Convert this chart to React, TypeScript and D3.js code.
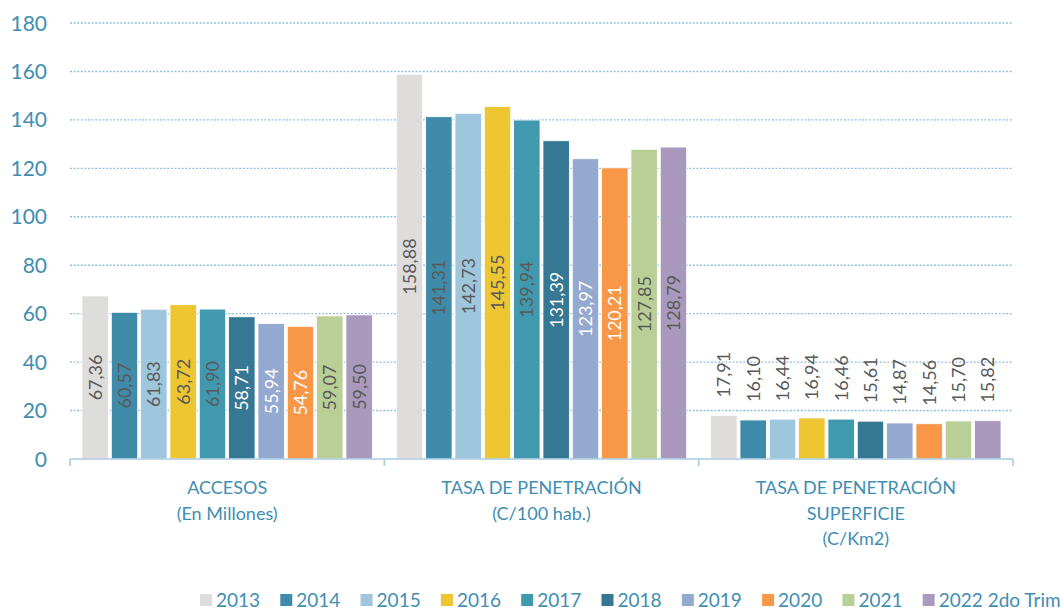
import * as d3 from 'd3';
import React, { useRef, useEffect } from 'react';

const years = ['2013', '2014', '2015', '2016', '2017', '2018', '2019', '2020', '2021', '2022 2do Trim'];
const categories = ['ACCESOS', 'TASA_PEN', 'TASA_SUP'];
const categoryLabels = [
  ['ACCESOS', '(En Millones)'],
  ['TASA DE PENETRACIÓN', '(C/100 hab.)'],
  ['TASA DE PENETRACIÓN', 'SUPERFICIE', '(C/Km2)'],
];
const accesos = [67.36, 60.57, 61.83, 63.72, 61.9, 58.71, 55.94, 54.76, 59.07, 59.5];
const tasaPenetracion = [158.88, 141.31, 142.73, 145.55, 139.94, 131.39, 123.97, 120.21, 127.85, 128.79];
const tasaSuperficie = [17.91, 16.1, 16.44, 16.94, 16.46, 15.61, 14.87, 14.56, 15.7, 15.82];
const yTicks = [0, 20, 40, 60, 80, 100, 120, 140, 160, 180];

const colors = ['#DEDDDB', '#418BAA', '#9EC6DD', '#EDC632', '#4199AF', '#367893', '#94A9CF', '#F79747', '#B9CF96', '#A899BD'];
const whiteLabel = ['2018', '2019', '2020'];

const FONT = 'Lato, "Open Sans", sans-serif';
const BLUE = '#418EB1';

export default function App() {
  const ref = useRef(null);

  useEffect(() => {
    const svg = d3.select(ref.current);
    svg.selectAll('*').remove();

    const series = [accesos, tasaPenetracion, tasaSuperficie];

    const y = d3.scaleLinear().domain([0, 180]).range([459, 23]);
    const x0 = d3.scaleBand().domain(categories).range([70, 1013]).padding(0);
    const inner = 12;
    const x1 = d3
      .scaleBand()
      .domain(years)
      .range([inner, x0.bandwidth() - inner])
      .paddingInner(0.1);

    // grid
    svg
      .append('g')
      .selectAll('line')
      .data(yTicks.filter(d => d > 0))
      .enter()
      .append('line')
      .attr('x1', 70)
      .attr('x2', 1013)
      .attr('y1', d => y(d))
      .attr('y2', d => y(d))
      .attr('stroke', '#93BFDC')
      .attr('stroke-width', 1.4)
      .attr('stroke-dasharray', '2,1.6');

    // y tick labels
    svg
      .append('g')
      .selectAll('text')
      .data(yTicks)
      .enter()
      .append('text')
      .attr('x', 47)
      .attr('y', d => y(d))
      .attr('dy', '0.36em')
      .attr('text-anchor', 'end')
      .attr('fill', BLUE)
      .style('font-family', FONT)
      .style('font-size', '21px')
      .text(d => d);

    // bars
    categories.forEach((c, ci) => {
      const g = svg.append('g').attr('transform', `translate(${x0(c)},0)`);
      const vals = series[ci];
      g.selectAll('rect')
        .data(vals)
        .enter()
        .append('rect')
        .attr('x', (d, i) => x1(years[i]))
        .attr('width', x1.bandwidth())
        .attr('y', d => y(d))
        .attr('height', d => y(0) - y(d))
        .attr('fill', (d, i) => colors[i])
        .attr('stroke', '#fff')
        .attr('stroke-width', 0.8);

      const outside = ci === 2;
      g.selectAll('text')
        .data(vals)
        .enter()
        .append('text')
        .attr('transform', (d, i) => {
          const cx = x1(years[i]) + x1.bandwidth() / 2;
          const cy = outside ? y(d) - 18 : (y(d) + y(0)) / 2;
          return `translate(${cx},${cy}) rotate(-90)`;
        })
        .attr('text-anchor', outside ? 'start' : 'middle')
        .attr('dy', '0.36em')
        .attr('fill', (d, i) => (!outside && whiteLabel.includes(years[i]) ? '#ffffff' : '#595959'))
        .style('font-family', FONT)
        .style('font-size', '18px')
        .text(d => d.toFixed(2).replace('.', ','));

      // category label
      const lines = categoryLabels[ci];
      g.append('text')
        .attr('x', x0.bandwidth() / 2)
        .attr('y', 494)
        .attr('text-anchor', 'middle')
        .attr('fill', BLUE)
        .style('font-family', FONT)
        .style('font-size', '18px')
        .selectAll('tspan')
        .data(lines)
        .enter()
        .append('tspan')
        .attr('x', x0.bandwidth() / 2)
        .attr('dy', (d, i) => (i === 0 ? 0 : 25.5))
        .text(d => d);
    });

    // x axis
    svg
      .append('line')
      .attr('x1', 70)
      .attr('x2', 1013)
      .attr('y1', y(0))
      .attr('y2', y(0))
      .attr('stroke', '#A8CBE0')
      .attr('stroke-width', 1.6);
    const bounds = categories.map(c => x0(c)).concat([1013]);
    svg
      .append('g')
      .selectAll('line')
      .data(bounds)
      .enter()
      .append('line')
      .attr('x1', d => d)
      .attr('x2', d => d)
      .attr('y1', y(0))
      .attr('y2', y(0) + 7)
      .attr('stroke', '#A8CBE0')
      .attr('stroke-width', 1.6);

    // legend
    const legend = svg
      .append('g')
      .selectAll('g')
      .data(years)
      .enter()
      .append('g')
      .attr('transform', (d, i) => `translate(${200 + i * 80.3},594)`);
    legend
      .append('rect')
      .attr('width', 12)
      .attr('height', 12)
      .attr('fill', (d, i) => colors[i]);
    legend
      .append('text')
      .attr('x', 16)
      .attr('y', 13)
      .attr('fill', BLUE)
      .style('font-family', FONT)
      .style('font-size', '19px')
      .text(d => d);
  }, []);

  return (
    <div style={{ position: 'absolute', left: 0, top: 0 }}>
      <svg ref={ref} width={1062} height={610} style={{ display: 'block', background: '#fff' }} />
    </div>
  );
}
